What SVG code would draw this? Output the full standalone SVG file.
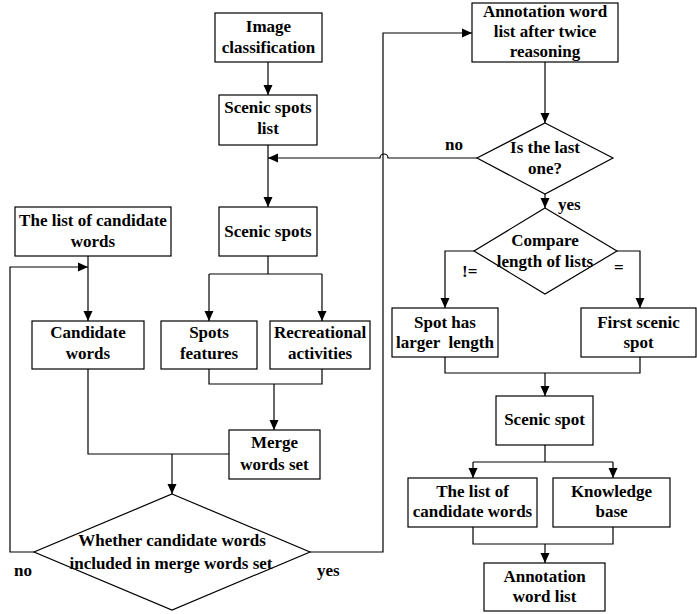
<svg xmlns="http://www.w3.org/2000/svg" width="697" height="614" viewBox="0 0 697 614">
<style>
.box{fill:#fff;stroke:#000;stroke-width:1.2}
.ln{fill:none;stroke:#000;stroke-width:1.2}
.ar{fill:none;stroke:#000;stroke-width:1.2;marker-end:url(#ah)}
text{font-family:"Liberation Serif","Times New Roman",serif;font-weight:bold;font-size:17px;fill:#000;text-anchor:middle}
.lb{text-anchor:start}
</style>
<defs>
<marker id="ah" viewBox="0 0 10 10" refX="10" refY="5" markerWidth="10" markerHeight="10" markerUnits="userSpaceOnUse" orient="auto">
<path d="M0,0.5 L10,5 L0,9.5 z" fill="#000"/>
</marker>
</defs>
<g id="connectors">
<path class="ar" d="M268 62 V95"/>
<path class="ar" d="M268 145 V207"/>
<path class="ar" d="M477 158 H388 A4 4 0 0 0 380 158 H268"/>
<path class="ar" d="M545 62 V123"/>
<path class="ar" d="M545 194 V208"/>
<path class="ar" d="M474 251 H445 V308"/>
<path class="ar" d="M617 251 H640 V308"/>
<path class="ln" d="M445 357 V373 H640 V357"/>
<path class="ar" d="M545 373 V396"/>
<path class="ln" d="M545 445 V462 M473 462 H613"/>
<path class="ar" d="M473 462 V478"/>
<path class="ar" d="M613 462 V478"/>
<path class="ln" d="M473 527 V544 H613 V527"/>
<path class="ar" d="M545 544 V563"/>
<path class="ln" d="M268 256 V274 M209 274 H322"/>
<path class="ar" d="M209 274 V321"/>
<path class="ar" d="M322 274 V321"/>
<path class="ln" d="M209 369 V384 H322 V369"/>
<path class="ar" d="M274 384 V430"/>
<path class="ln" d="M88 369 V454 H229"/>
<path class="ar" d="M172 454 V494"/>
<path class="ar" d="M88 256 V321"/>
<path class="ar" d="M34 552 H10 V267 H88"/>
<path class="ar" d="M310 552 H383 V33 H472"/>
</g>
<g id="label-no-top"><text class="lb" x="445" y="150">no</text></g>
<g id="label-yes-top"><text class="lb" x="558" y="210">yes</text></g>
<g id="label-ne"><text class="lb" x="462" y="277">!=</text></g>
<g id="label-eq"><text class="lb" x="614" y="273">=</text></g>
<g id="label-no-left"><text class="lb" x="14" y="576">no</text></g>
<g id="label-yes-left"><text class="lb" x="317" y="576">yes</text></g>
<g id="image-classification">
<rect class="box" x="215" y="13" width="107" height="49"/>
<text x="268.5" y="32">Image</text>
<text x="268.5" y="53">classification</text>
</g>
<g id="scenic-spots-list">
<rect class="box" x="219" y="95" width="98" height="50"/>
<text x="268" y="113">Scenic spots</text>
<text x="268" y="134">list</text>
</g>
<g id="annotation-after-twice">
<rect class="box" x="472" y="3" width="146" height="59"/>
<text x="545" y="17">Annotation word</text>
<text x="545" y="37">list after twice</text>
<text x="545" y="57">reasoning</text>
</g>
<g id="is-last">
<polygon class="box" points="545,123 613,158 545,194 477,158"/>
<text x="545" y="153">Is the last</text>
<text x="545" y="174">one?</text>
</g>
<g id="compare">
<polygon class="box" points="545,208 617,251 545,294 474,251"/>
<text x="545" y="246">Compare</text>
<text x="545" y="267">length of lists</text>
</g>
<g id="spot-larger">
<rect class="box" x="392" y="308" width="106" height="49"/>
<text x="445" y="328">Spot has</text>
<text x="445" y="348" style="white-space:pre">larger  length</text>
</g>
<g id="first-scenic-spot">
<rect class="box" x="581" y="308" width="115" height="49"/>
<text x="638.5" y="328">First scenic</text>
<text x="638.5" y="348">spot</text>
</g>
<g id="scenic-spot">
<rect class="box" x="496" y="396" width="97" height="49"/>
<text x="544.5" y="425">Scenic spot</text>
</g>
<g id="list-candidate-right">
<rect class="box" x="408" y="478" width="129" height="49"/>
<text x="472.5" y="497">The list of</text>
<text x="472.5" y="517">candidate words</text>
</g>
<g id="knowledge-base">
<rect class="box" x="553" y="478" width="117" height="49"/>
<text x="611.5" y="497">Knowledge</text>
<text x="611.5" y="517">base</text>
</g>
<g id="annotation-word-list">
<rect class="box" x="484" y="563" width="121" height="48"/>
<text x="544.5" y="582">Annotation</text>
<text x="544.5" y="602">word list</text>
</g>
<g id="list-candidate-left">
<rect class="box" x="15" y="207" width="156" height="49"/>
<text x="93" y="226">The list of candidate</text>
<text x="93" y="247">words</text>
</g>
<g id="scenic-spots">
<rect class="box" x="219" y="207" width="98" height="49"/>
<text x="268" y="237">Scenic spots</text>
</g>
<g id="candidate-words">
<rect class="box" x="32" y="321" width="112" height="48"/>
<text x="88" y="338">Candidate</text>
<text x="88" y="359">words</text>
</g>
<g id="spots-features">
<rect class="box" x="161" y="321" width="96" height="48"/>
<text x="209" y="338">Spots</text>
<text x="209" y="359">features</text>
</g>
<g id="recreational-activities">
<rect class="box" x="270" y="321" width="100" height="48"/>
<text x="320" y="338">Recreational</text>
<text x="320" y="359">activities</text>
</g>
<g id="merge-words-set">
<rect class="box" x="229" y="430" width="91" height="49"/>
<text x="274.5" y="448">Merge</text>
<text x="274.5" y="470">words set</text>
</g>
<g id="whether-included">
<polygon class="box" points="172,494 310,552 172,610 34,552"/>
<text x="172" y="546">Whether candidate words</text>
<text x="171" y="569">included in merge words set</text>
</g>
</svg>
